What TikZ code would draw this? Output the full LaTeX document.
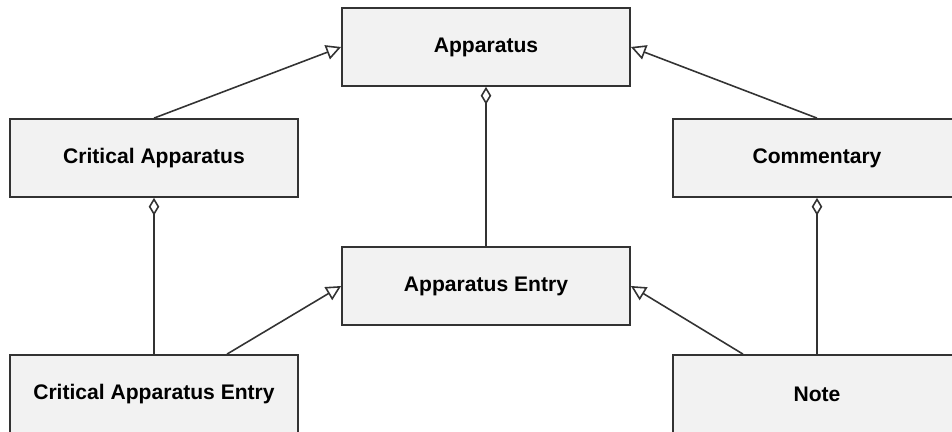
\documentclass[tikz,border=0pt]{standalone}
\usepackage{fontspec}
\setmainfont{Liberation Sans}
\usetikzlibrary{arrows.meta, positioning, calc}
\definecolor{boxfill}{HTML}{F2F2F2}
\definecolor{boxline}{HTML}{333333}

\begin{document}
\begin{tikzpicture}[
    cls/.style={rectangle, draw=boxline, line width=1pt, fill=boxfill, minimum width=5.76cm, minimum height=1.56cm, align=center, font=\fontsize{12}{14}\selectfont\bfseries},
    inherit/.style={-{Triangle[open, length=8.5pt, width=8.5pt]}, draw=boxline, line width=0.9pt},
    aggr/.style={{Diamond[open, length=10pt, width=6pt]}-, draw=boxline, line width=0.9pt}
]
\clip (0,0) rectangle (19.04,8.64);
\useasboundingbox (0,0) rectangle (19.04,8.64);

% Classes
\node[cls] (apparatus) at (9.72, 7.70) {Apparatus};
\node[cls] (critical) at (3.08, 5.48) {Critical Apparatus};
\node[cls] (commentary) at (16.34, 5.48) {Commentary};
\node[cls] (entry) at (9.72, 2.92) {Apparatus Entry};
\node[cls] (critentry) at (3.08, 0.76) {Critical Apparatus Entry};
\node[cls] (note) at (16.34, 0.76) {Note};

% Generalisation
\draw[inherit] (critical.north) -- (apparatus.west);
\draw[inherit] (commentary.north) -- (apparatus.east);
\draw[inherit] ([xshift=1.46cm]critentry.north) -- (entry.west);
\draw[inherit] ([xshift=-1.48cm]note.north) -- (entry.east);

% Aggregation
\draw[aggr] (apparatus.south) -- (entry.north);
\draw[aggr] (critical.south) -- (critentry.north);
\draw[aggr] (commentary.south) -- (note.north);
\end{tikzpicture}
\end{document}
